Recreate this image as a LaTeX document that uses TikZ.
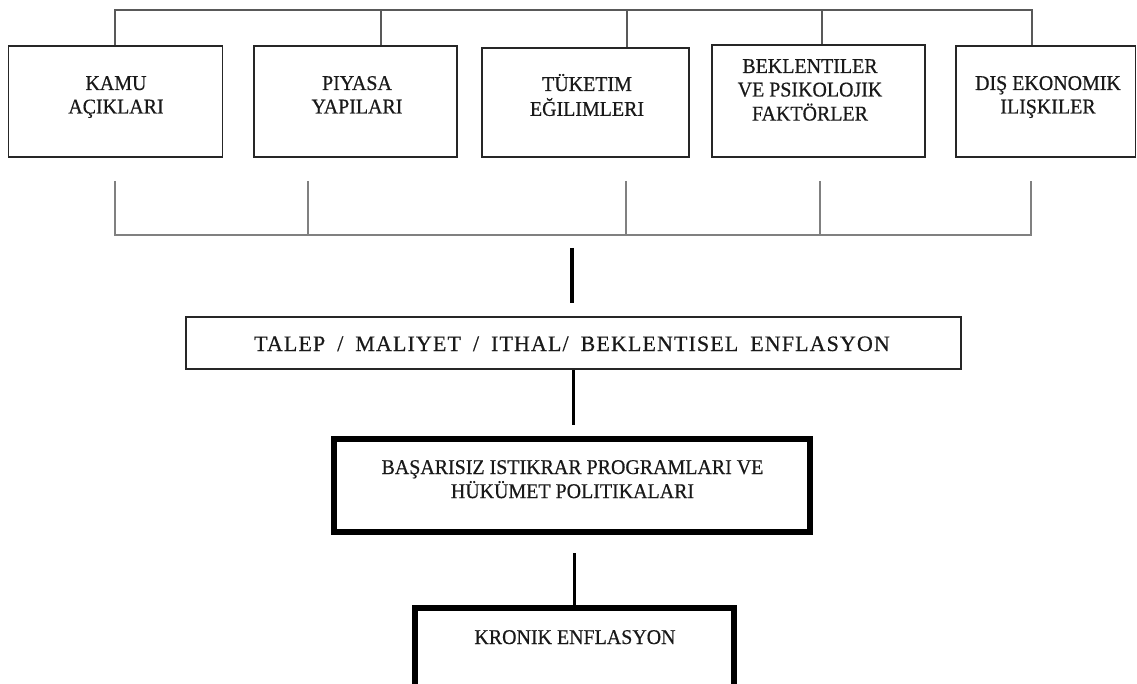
\documentclass[tikz,border=0pt]{standalone}
\usepackage{fontspec}
\setmainfont{Liberation Serif}[FakeStretch=0.95,FakeBold=0.5]
\newfontfamily\talepfont{Liberation Serif}[LetterSpace=5,FakeBold=0.5]
\begin{document}
\begin{tikzpicture}[x=1pt,y=-1pt,
  topbox/.style={draw=black!85, line width=1.6pt, inner sep=0pt, fill=none},
  midbox/.style={draw=black!85, line width=2pt, inner sep=0pt},
  heavybox/.style={draw=black, line width=6pt, inner sep=0pt},
  lbl/.style={inner sep=0pt, anchor=base, font=\fontsize{21}{23.5}\selectfont, text=black!90},
  topline/.style={draw=black!65, line width=1.4pt},
  botline/.style={draw=black!50, line width=1.3pt},
  heavyline/.style={draw=black, line width=3.5pt}]
\useasboundingbox (0,0) rectangle (1137,684);
% top boxes
\node[topbox, minimum width=214pt, minimum height=111.5pt] (kamu) at (115.5,101.5) {};
\node[topbox, minimum width=203pt, minimum height=111.5pt] (piyasa) at (355.5,101.5) {};
\node[topbox, minimum width=207pt, minimum height=109pt] (tuketim) at (585.5,102.5) {};
\node[topbox, minimum width=213pt, minimum height=112pt] (bekl) at (818.5,101) {};
\node[topbox, minimum width=179.5pt, minimum height=111.5pt] (dis) at (1045.75,101.5) {};
% labels
\def\arraystretch{1}
\node[lbl] (kamut) at (116,90) {\begin{tabular}[t]{@{}c@{}}KAMU\\AÇIKLARI\end{tabular}};
\node[lbl] (piyasat) at (357,90) {\begin{tabular}[t]{@{}c@{}}PIYASA\\YAPILARI\end{tabular}};
\node[lbl] (tuketimt) at (587,91) {\begin{tabular}[t]{@{}c@{}}TÜKETIM\\EĞILIMLERI\end{tabular}};
\node[lbl] (beklt) at (810,73) {\begin{tabular}[t]{@{}c@{}}BEKLENTILER\\VE PSIKOLOJIK\\FAKTÖRLER\end{tabular}};
\node[lbl] (dist) at (1048,90) {\begin{tabular}[t]{@{}c@{}}DIŞ EKONOMIK\\ILIŞKILER\end{tabular}};
% top connector bus
\coordinate (tb1) at (115,10);
\coordinate (tb2) at (381,10);
\coordinate (tb3) at (627,10);
\coordinate (tb4) at (822,10);
\coordinate (tb5) at (1032,10);
\draw[topline] (tb1 |- kamu.north) -- (tb1) -- (tb5) -- (tb5 |- dis.north);
\draw[topline] (tb2) -- (tb2 |- piyasa.north);
\draw[topline] (tb3) -- (tb3 |- tuketim.north);
\draw[topline] (tb4) -- (tb4 |- bekl.north);
% bottom bracket
\coordinate (bt1) at (115,181); \coordinate (bb1) at (115,235);
\coordinate (bt2) at (308,181); \coordinate (bb2) at (308,235);
\coordinate (bt3) at (626,181); \coordinate (bb3) at (626,235);
\coordinate (bt4) at (820,181); \coordinate (bb4) at (820,235);
\coordinate (bt5) at (1031,181); \coordinate (bb5) at (1031,235);
\draw[botline] (bt1) -- (bb1) -- (bb5) -- (bt5);
\draw[botline] (bt2) -- (bb2);
\draw[botline] (bt3) -- (bb3);
\draw[botline] (bt4) -- (bb4);
% lower chain
\coordinate (s1) at (572,248);
\coordinate (s2) at (572,303);
\draw[heavyline] (s1) -- (s2);
\node[midbox, minimum width=775pt, minimum height=52pt] (talep) at (573.5,343) {};
\node[inner sep=0pt, anchor=base, text=black!90] (talept) at (572,351)
  {\fontsize{22}{24}\talepfont\spaceskip=12pt TALEP / MALIYET / ITHAL/ BEKLENTISEL ENFLASYON};
\coordinate (c1) at (573.5,425);
\draw[heavyline] (talep.south) -- (c1);
\node[heavybox, minimum width=476pt, minimum height=93pt] (bas) at (572,485.5) {};
\node[lbl] (bast) at (572.5,474) {\begin{tabular}[t]{@{}c@{}}BAŞARISIZ ISTIKRAR PROGRAMLARI VE\\HÜKÜMET POLITIKALARI\end{tabular}};
\coordinate (c2) at (574.5,553);
\node[heavybox, minimum width=319pt, minimum height=92pt] (kron) at (574.5,654) {};
\node[lbl] (kront) at (575,644) {KRONIK ENFLASYON};
\draw[heavyline] (c2) -- (kron.north);
\end{tikzpicture}
\end{document}
